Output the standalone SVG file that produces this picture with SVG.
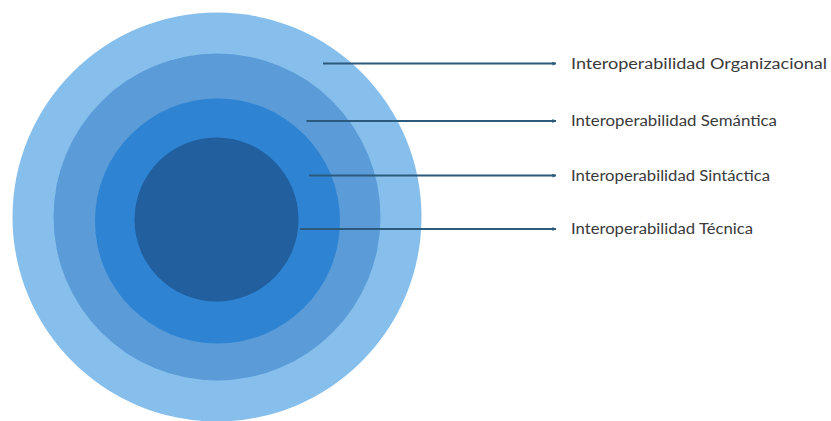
<svg xmlns="http://www.w3.org/2000/svg" width="831" height="421" viewBox="0 0 831 421">
<defs>
<style>
.lbl{font-family:"Lato","Open Sans","Liberation Sans",sans-serif;font-size:15.5px;fill:#3a3a3a}
.con{stroke:#2c5a7c;stroke-width:2;fill:none}
</style>
<marker id="arr" viewBox="0 0 10 10" refX="9" refY="5" markerWidth="4" markerHeight="4" markerUnits="userSpaceOnUse" orient="auto">
<path d="M0,0 L10,5 L0,10 z" fill="#2c5a7c"/>
</marker>
</defs>
<rect width="831" height="421" fill="#ffffff"/>
<g id="organizacional-ring"><circle cx="217" cy="217" r="204.5" fill="#86bfec"/></g>
<g id="semantica-ring"><circle cx="217" cy="217" r="163.5" fill="#5a9bd8"/></g>
<g id="sintactica-ring"><circle cx="217.5" cy="221" r="122.5" fill="#2e84d3"/></g>
<g id="tecnica-core"><circle cx="216.5" cy="219.5" r="82" fill="#215f9e"/></g>
<g id="connectors">
<line class="con" x1="323" y1="63.5" x2="556" y2="63.5" marker-end="url(#arr)"/>
<line class="con" x1="306.5" y1="121" x2="556" y2="121" marker-end="url(#arr)"/>
<line class="con" x1="309" y1="175.5" x2="556" y2="175.5" marker-end="url(#arr)"/>
<line class="con" x1="300" y1="229" x2="556" y2="229" marker-end="url(#arr)"/>
</g>
<g id="label-organizacional"><text class="lbl" x="571" y="68.5" textLength="256" lengthAdjust="spacingAndGlyphs">Interoperabilidad Organizacional</text></g>
<g id="label-semantica"><text class="lbl" x="571" y="126" textLength="206" lengthAdjust="spacingAndGlyphs">Interoperabilidad Semántica</text></g>
<g id="label-sintactica"><text class="lbl" x="571" y="180.5" textLength="199" lengthAdjust="spacingAndGlyphs">Interoperabilidad Sintáctica</text></g>
<g id="label-tecnica"><text class="lbl" x="571" y="234" textLength="182" lengthAdjust="spacingAndGlyphs">Interoperabilidad Técnica</text></g>
</svg>
